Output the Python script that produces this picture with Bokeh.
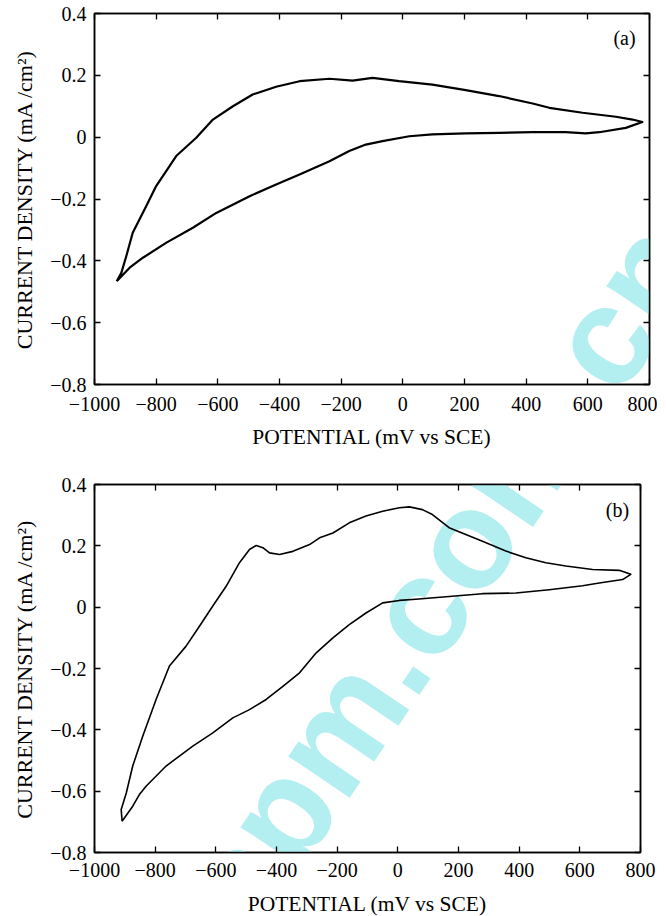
from bokeh.plotting import figure
from bokeh.models import LinearAxis, FixedTicker, Label, Range1d
from bokeh.layouts import column
from bokeh.embed import file_html
from bokeh.resources import INLINE

# ---------------- data ----------------
x_ticks = [-1000, -800, -600, -400, -200, 0, 200, 400, 600, 800]
x_tick_labels = ["\u22121000", "\u2212800", "\u2212600", "\u2212400", "\u2212200",
                 "0", "200", "400", "600", "800"]
y_ticks = [-0.8, -0.6, -0.4, -0.2, 0.0, 0.2, 0.4]
y_tick_labels = ["\u22120.8", "\u22120.6", "\u22120.4", "\u22120.2", "0", "0.2", "0.4"]

x_title = "POTENTIAL (mV vs SCE)"
y_title = "CURRENT DENSITY (mA /cm\u00b2)"
panel_labels = ["(a)", "(b)"]
watermark = "spm.com.cn"

# panel (a): potential (mV) and current density (mA/cm2) along the scan
pot_a = [-928, -913, -897, -876, -832, -800, -735, -670, -616, -551, -487, -411,
         -335, -238, -163, -98, -12, 96, 204, 312, 421, 475, 583, 691, 745, 777,
         723, 637, 593, 528, 421, 312, 204, 96, 21, -66, -120, -174, -238, -335,
         -411, -497, -605, -681, -768, -843, -886, -928]
cur_a = [-0.466, -0.439, -0.385, -0.309, -0.223, -0.158, -0.061, -0.002, 0.057,
         0.100, 0.138, 0.163, 0.181, 0.189, 0.183, 0.192, 0.181, 0.170, 0.152,
         0.133, 0.109, 0.095, 0.079, 0.066, 0.057, 0.049,
         0.030, 0.016, 0.012, 0.016, 0.016, 0.014, 0.012, 0.009, 0.003, -0.013,
         -0.024, -0.045, -0.078, -0.121, -0.153, -0.191, -0.245, -0.293, -0.342,
         -0.390, -0.422, -0.466]

# panel (b)
pot_b = [-909, -912, -895, -874, -841, -797, -753, -698, -654, -610, -566, -522,
         -489, -467, -445, -423, -390, -346, -291, -258, -214, -160, -105, -50, 5,
         38, 81, 114, 169, 224, 279, 356, 422, 488, 554, 642, 730, 768,
         741, 664, 609, 499, 389, 279, 169, 59, 5, -50, -105, -160, -214, -269,
         -324, -379, -434, -489, -544, -610, -676, -764, -830, -852, -874, -909]
cur_b = [-0.698, -0.660, -0.605, -0.518, -0.421, -0.301, -0.192, -0.127, -0.062,
         0.004, 0.068, 0.145, 0.188, 0.201, 0.194, 0.177, 0.172, 0.182, 0.204,
         0.226, 0.242, 0.275, 0.297, 0.313, 0.324, 0.327, 0.318, 0.302, 0.259,
         0.237, 0.215, 0.183, 0.161, 0.145, 0.134, 0.123, 0.120, 0.107,
         0.090, 0.079, 0.070, 0.057, 0.046, 0.044, 0.035, 0.026, 0.022, 0.014,
         -0.019, -0.057, -0.100, -0.149, -0.214, -0.258, -0.301, -0.334, -0.361,
         -0.410, -0.453, -0.518, -0.584, -0.611, -0.649, -0.698]

SERIF = "Liberation Serif"
X_RANGE = (-1000, 800)
Y_RANGE = (-0.8, 0.4)


def make_panel(pot, cur, label, frame_w, frame_h, border, lw, label_pos,
               frame_left_page, frame_top_page, wm_center_page, standoffs):
    bl, br, bt, bb = border
    p = figure(frame_width=frame_w, frame_height=frame_h,
               x_range=Range1d(*X_RANGE), y_range=Range1d(*Y_RANGE),
               output_backend="svg", toolbar_location=None,
               min_border_left=bl, min_border_right=br,
               min_border_top=bt, min_border_bottom=bb,
               background_fill_color="white", border_fill_color="white",
               outline_line_color="black", outline_line_width=1.5)
    p.xgrid.visible = False
    p.ygrid.visible = False
    bx = p.below[0]
    ly = p.left[0]

    def page_to_data(px, py):
        xd = X_RANGE[0] + (px - frame_left_page) / frame_w * (X_RANGE[1] - X_RANGE[0])
        yd = Y_RANGE[1] - (py - frame_top_page) / frame_h * (Y_RANGE[1] - Y_RANGE[0])
        return xd, yd

    # watermark
    wx, wy = page_to_data(*wm_center_page)
    p.add_layout(Label(x=wx, y=wy, text=watermark, angle=0.976,
                       text_font="Liberation Sans", text_font_style="bold",
                       text_font_size="140px", text_color="#b3eff0",
                       text_align="center", text_baseline="middle",
                       level="annotation"))

    p.line(pot, cur, line_color="black", line_width=lw, line_join="round",
           level="overlay")

    xt = FixedTicker(ticks=x_ticks)
    yt = FixedTicker(ticks=y_ticks)
    xo = {float(v): s for v, s in zip(x_ticks, x_tick_labels)}
    yo = {float(v): s for v, s in zip(y_ticks, y_tick_labels)}

    top = LinearAxis(ticker=xt)
    right = LinearAxis(ticker=yt)
    p.add_layout(top, "above")
    p.add_layout(right, "right")

    for ax in [bx, ly, top, right]:
        ax.level = "overlay"
        ax.major_tick_in = 6
        ax.major_tick_out = 0
        ax.minor_tick_line_color = None
        ax.major_tick_line_color = "black"
        ax.major_tick_line_width = 1.3
        ax.axis_line_color = "black"
        ax.axis_line_width = 1.5
        ax.major_label_text_font = SERIF
        ax.major_label_text_font_size = "20px"
        ax.major_label_text_color = "black"
        ax.axis_label_text_font = SERIF
        ax.axis_label_text_font_size = "21.5px"
        ax.axis_label_text_font_style = "normal"
        ax.axis_label_text_color = "black"

    for ax in [top, right]:
        ax.major_label_text_font_size = "1px"
        ax.major_label_text_color = None
        ax.major_label_standoff = 0

    bx.ticker = xt
    bx.major_label_overrides = xo
    bx.major_label_standoff = standoffs[0]
    bx.axis_label = x_title
    bx.axis_label_standoff = standoffs[1]

    ly.ticker = yt
    ly.major_label_overrides = yo
    ly.major_label_standoff = 8
    ly.major_label_orientation = "horizontal"
    ly.axis_label = y_title
    ly.axis_label_text_font_size = "22px"
    ly.axis_label_standoff = 10

    lx, lyy = page_to_data(*label_pos)
    p.add_layout(Label(x=lx, y=lyy, text=label, text_font=SERIF,
                       text_font_size="20px", text_color="black",
                       text_align="center", text_baseline="middle",
                       level="overlay"))
    return p


WM_CENTER = (442, 576)

pa = make_panel(pot_a, cur_a, panel_labels[0], 555, 371, (94, 8, 13, 64), 2.2,
                (625, 38), 95, 14, WM_CENTER, (12, 11))
pb = make_panel(pot_b, cur_b, panel_labels[1], 546, 368, (94, 17, 33, 61), 1.6,
                (618, 510), 95, 485, WM_CENTER, (10, 12))

layout = column(pa, pb, spacing=0)
open("out.html", "w").write(file_html(layout, INLINE))
